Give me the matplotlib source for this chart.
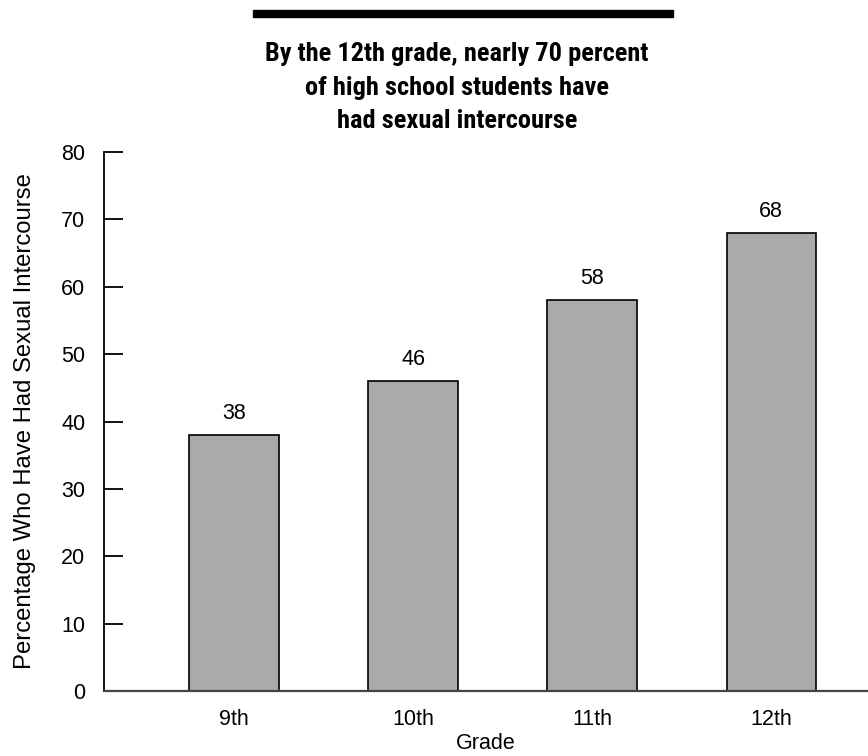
import matplotlib.pyplot as plt
from matplotlib.patches import Rectangle

grades = ['9th', '10th', '11th', '12th']
percent = [38, 46, 58, 68]
y_ticks = [0, 10, 20, 30, 40, 50, 60, 70, 80]

title = 'By the 12th grade, nearly 70 percent\nof high school students have\nhad sexual intercourse'

plt.rcParams['font.family'] = ['Liberation Sans', 'DejaVu Sans']

fig = plt.figure(figsize=(8.68, 7.56), dpi=100)
ax = fig.add_axes([104 / 868, 65 / 756, 764 / 868, 539 / 756])

x = range(len(grades))
ax.bar(x, percent, width=0.5, color='#aaaaaa', edgecolor='black', linewidth=1.2, zorder=2)
for i, v in zip(x, percent):
    ax.annotate(str(v), (i, v), xytext=(0, 8), textcoords='offset points',
                ha='center', va='bottom', fontsize=15.5)

ax.set_xlim(-0.726, 3.54)
ax.set_ylim(0, 80)
ax.set_yticks(y_ticks)
ax.set_xticks(list(x))
ax.set_xticklabels(grades)
ax.tick_params(axis='y', direction='in', length=14, width=1.3, pad=13.5, labelsize=15.5)
ax.tick_params(axis='x', length=0, pad=13, labelsize=15.5)
ax.set_xlabel('Grade', fontsize=15.5, labelpad=2)
ax.set_ylabel('Percentage Who Have Had Sexual Intercourse', fontsize=17.2, labelpad=18)

for side in ['top', 'right']:
    ax.spines[side].set_visible(False)
ax.spines['left'].set_linewidth(1.3)
ax.spines['bottom'].set_linewidth(1.6)
ax.spines['bottom'].set_color('#444444')

# heavy rule above the title
fig.add_artist(Rectangle((253 / 868, 1 - 17 / 756), 420 / 868, 7 / 756,
                         transform=fig.transFigure, color='black'))
fig.text(457 / 868, 1 - 128 / 756, title, ha='center', va='baseline', fontsize=19,
         fontweight='bold', family=['Roboto Condensed', 'DejaVu Sans'],
         linespacing=1.5, multialignment='center')

fig.savefig('out.png', dpi=100)
